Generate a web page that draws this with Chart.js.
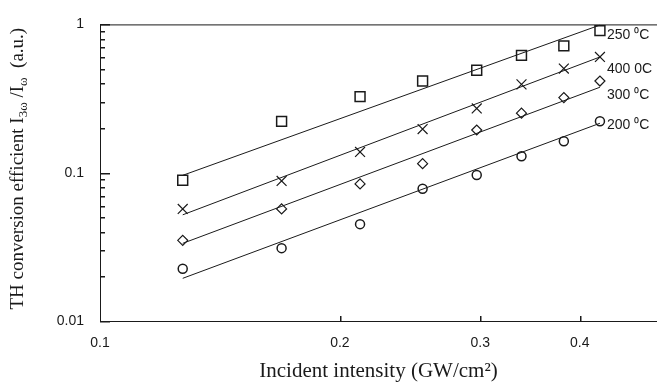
<!DOCTYPE html>
<html>
<head>
<meta charset="utf-8">
<script src="https://cdn.jsdelivr.net/npm/chart.js@4.4.1/dist/chart.umd.min.js"></script>
<style>
html, body { margin: 0; padding: 0; background: #fff; }
</style>
</head>
<body>
<canvas id="chart" width="657" height="384"></canvas>
<script>
// incident intensity (GW/cm2) of the measured points
const intensity = [0.127, 0.169, 0.212, 0.254, 0.297, 0.338, 0.382, 0.424];
// TH conversion efficiency for each temperature
const eff250 = [0.089, 0.222, 0.326, 0.415, 0.491, 0.618, 0.717, 0.908];
const eff400 = [0.057, 0.088, 0.138, 0.197, 0.271, 0.394, 0.504, 0.603];
const eff300 = [0.035, 0.057, 0.084, 0.115, 0.194, 0.252, 0.321, 0.415];
const eff200 = [0.0225, 0.031, 0.045, 0.078, 0.0965, 0.129, 0.163, 0.222];
// fitted lines (end points)
const fitX = [0.127, 0.424];
const fit250 = [0.096, 0.99];
const fit400 = [0.052, 0.603];
const fit300 = [0.0334, 0.377];
const fit200 = [0.0194, 0.2155];
const seriesNames = ['250 \u2070C', '400 0C', '300 \u2070C', '200 \u2070C'];
const tagAt = [0.849, 0.496, 0.331, 0.209];
const xTicks = [0.1, 0.2, 0.3, 0.4];
const yTicks = [0.01, 0.1, 1];
const yMinor = [0.02, 0.03, 0.04, 0.05, 0.06, 0.07, 0.08, 0.09,
                0.2, 0.3, 0.4, 0.5, 0.6, 0.7, 0.8, 0.9];

const ink = '#1a1a1a';
const pts = (xs, ys) => xs.map((x, i) => ({x: x, y: ys[i]}));

function markers(ys, style, r, bw) {
    return {
        data: pts(intensity, ys), showLine: false,
        pointStyle: style, pointRadius: r, pointHoverRadius: r,
        pointBorderColor: ink, pointBackgroundColor: 'rgba(0,0,0,0)',
        pointBorderWidth: bw
    };
}
function fitLine(ys) {
    return {
        data: pts(fitX, ys), showLine: true, pointRadius: 0,
        borderColor: ink, borderWidth: 1, fill: false
    };
}

const decor = {
    id: 'decor',
    afterDraw(chart) {
        const ctx = chart.ctx;
        const a = chart.chartArea;
        const xs = chart.scales.x, ys = chart.scales.y;
        ctx.save();
        ctx.fillStyle = ink;
        // frame top line
        ctx.fillRect(a.left, a.top, a.right - a.left, 1);
        // y ticks, pointing inwards
        yTicks.forEach(v => {
            const py = Math.round(ys.getPixelForValue(v));
            ctx.fillRect(a.left, py, 10, 1.5);
        });
        yMinor.forEach(v => {
            const py = Math.round(ys.getPixelForValue(v));
            ctx.fillRect(a.left, py, 5, 1.5);
        });
        // x ticks, pointing inwards
        xTicks.slice(1).forEach(v => {
            const px = Math.round(xs.getPixelForValue(v));
            ctx.fillRect(px, a.bottom - 5, 1.5, 5);
        });

        // series tags
        ctx.font = '14px "Liberation Sans", sans-serif';
        ctx.textBaseline = 'middle';
        ctx.textAlign = 'left';
        const tx = xs.getPixelForValue(fitX[1]) + 7;
        seriesNames.forEach((s, i) => {
            ctx.fillText(s, tx, ys.getPixelForValue(tagAt[i]));
        });

        // y axis title with subscripts
        const parts = [
            ['TH conversion efficient I', false],
            ['3\u03c9', true],
            [' /I', false],
            ['\u03c9', true],
            ['  (a.u.)', false]
        ];
        const big = '19px "Liberation Serif", serif';
        const small = '13px "Liberation Serif", serif';
        let total = 0;
        parts.forEach(p => { ctx.font = p[1] ? small : big; total += ctx.measureText(p[0]).width; });
        ctx.translate(18, (a.top + a.bottom) / 2 - 4);
        ctx.rotate(-Math.PI / 2);
        ctx.textBaseline = 'middle';
        let cx = -total / 2;
        parts.forEach(p => {
            ctx.font = p[1] ? small : big;
            ctx.fillText(p[0], cx, p[1] ? 6 : 0);
            cx += ctx.measureText(p[0]).width;
        });
        ctx.restore();
    }
};

new Chart(document.getElementById('chart').getContext('2d'), {
    type: 'scatter',
    data: {
        datasets: [
            fitLine(fit250), fitLine(fit400), fitLine(fit300), fitLine(fit200),
            markers(eff250, 'rect', 7, 1.5),
            markers(eff400, 'crossRot', 7, 1.2),
            markers(eff300, 'rectRot', 5, 1.2),
            markers(eff200, 'circle', 4.5, 1.5)
        ]
    },
    options: {
        responsive: false,
        animation: false,
        layout: { autoPadding: false, padding: { top: 21, right: 0, left: 0, bottom: 0 } },
        plugins: { legend: { display: false }, tooltip: { enabled: false } },
        scales: {
            x: {
                type: 'logarithmic', min: 0.1, max: 0.5,
                afterBuildTicks: s => { s.ticks = xTicks.map(v => ({value: v})); },
                afterFit: s => { s.height = 63; },
                grid: { display: false, drawTicks: false },
                border: { display: true, color: ink, width: 1 },
                ticks: {
                    autoSkip: false, maxRotation: 0, padding: 14, color: ink,
                    font: { family: '"Liberation Sans", sans-serif', size: 14 },
                    callback: v => String(v)
                },
                title: {
                    display: true, text: 'Incident intensity (GW/cm\u00b2)', color: ink,
                    font: { family: '"Liberation Serif", serif', size: 21 },
                    padding: { top: 0, bottom: 0 }
                }
            },
            y: {
                type: 'logarithmic', min: 0.01, max: 1,
                afterBuildTicks: s => { s.ticks = yTicks.map(v => ({value: v})); },
                afterFit: s => { s.width = 100; },
                grid: { display: false, drawTicks: false },
                border: { display: true, color: ink, width: 1 },
                ticks: {
                    autoSkip: false, padding: 16, color: ink,
                    font: { family: '"Liberation Sans", sans-serif', size: 14 },
                    callback: v => String(v)
                }
            }
        }
    },
    plugins: [decor]
});
</script>
</body>
</html>
